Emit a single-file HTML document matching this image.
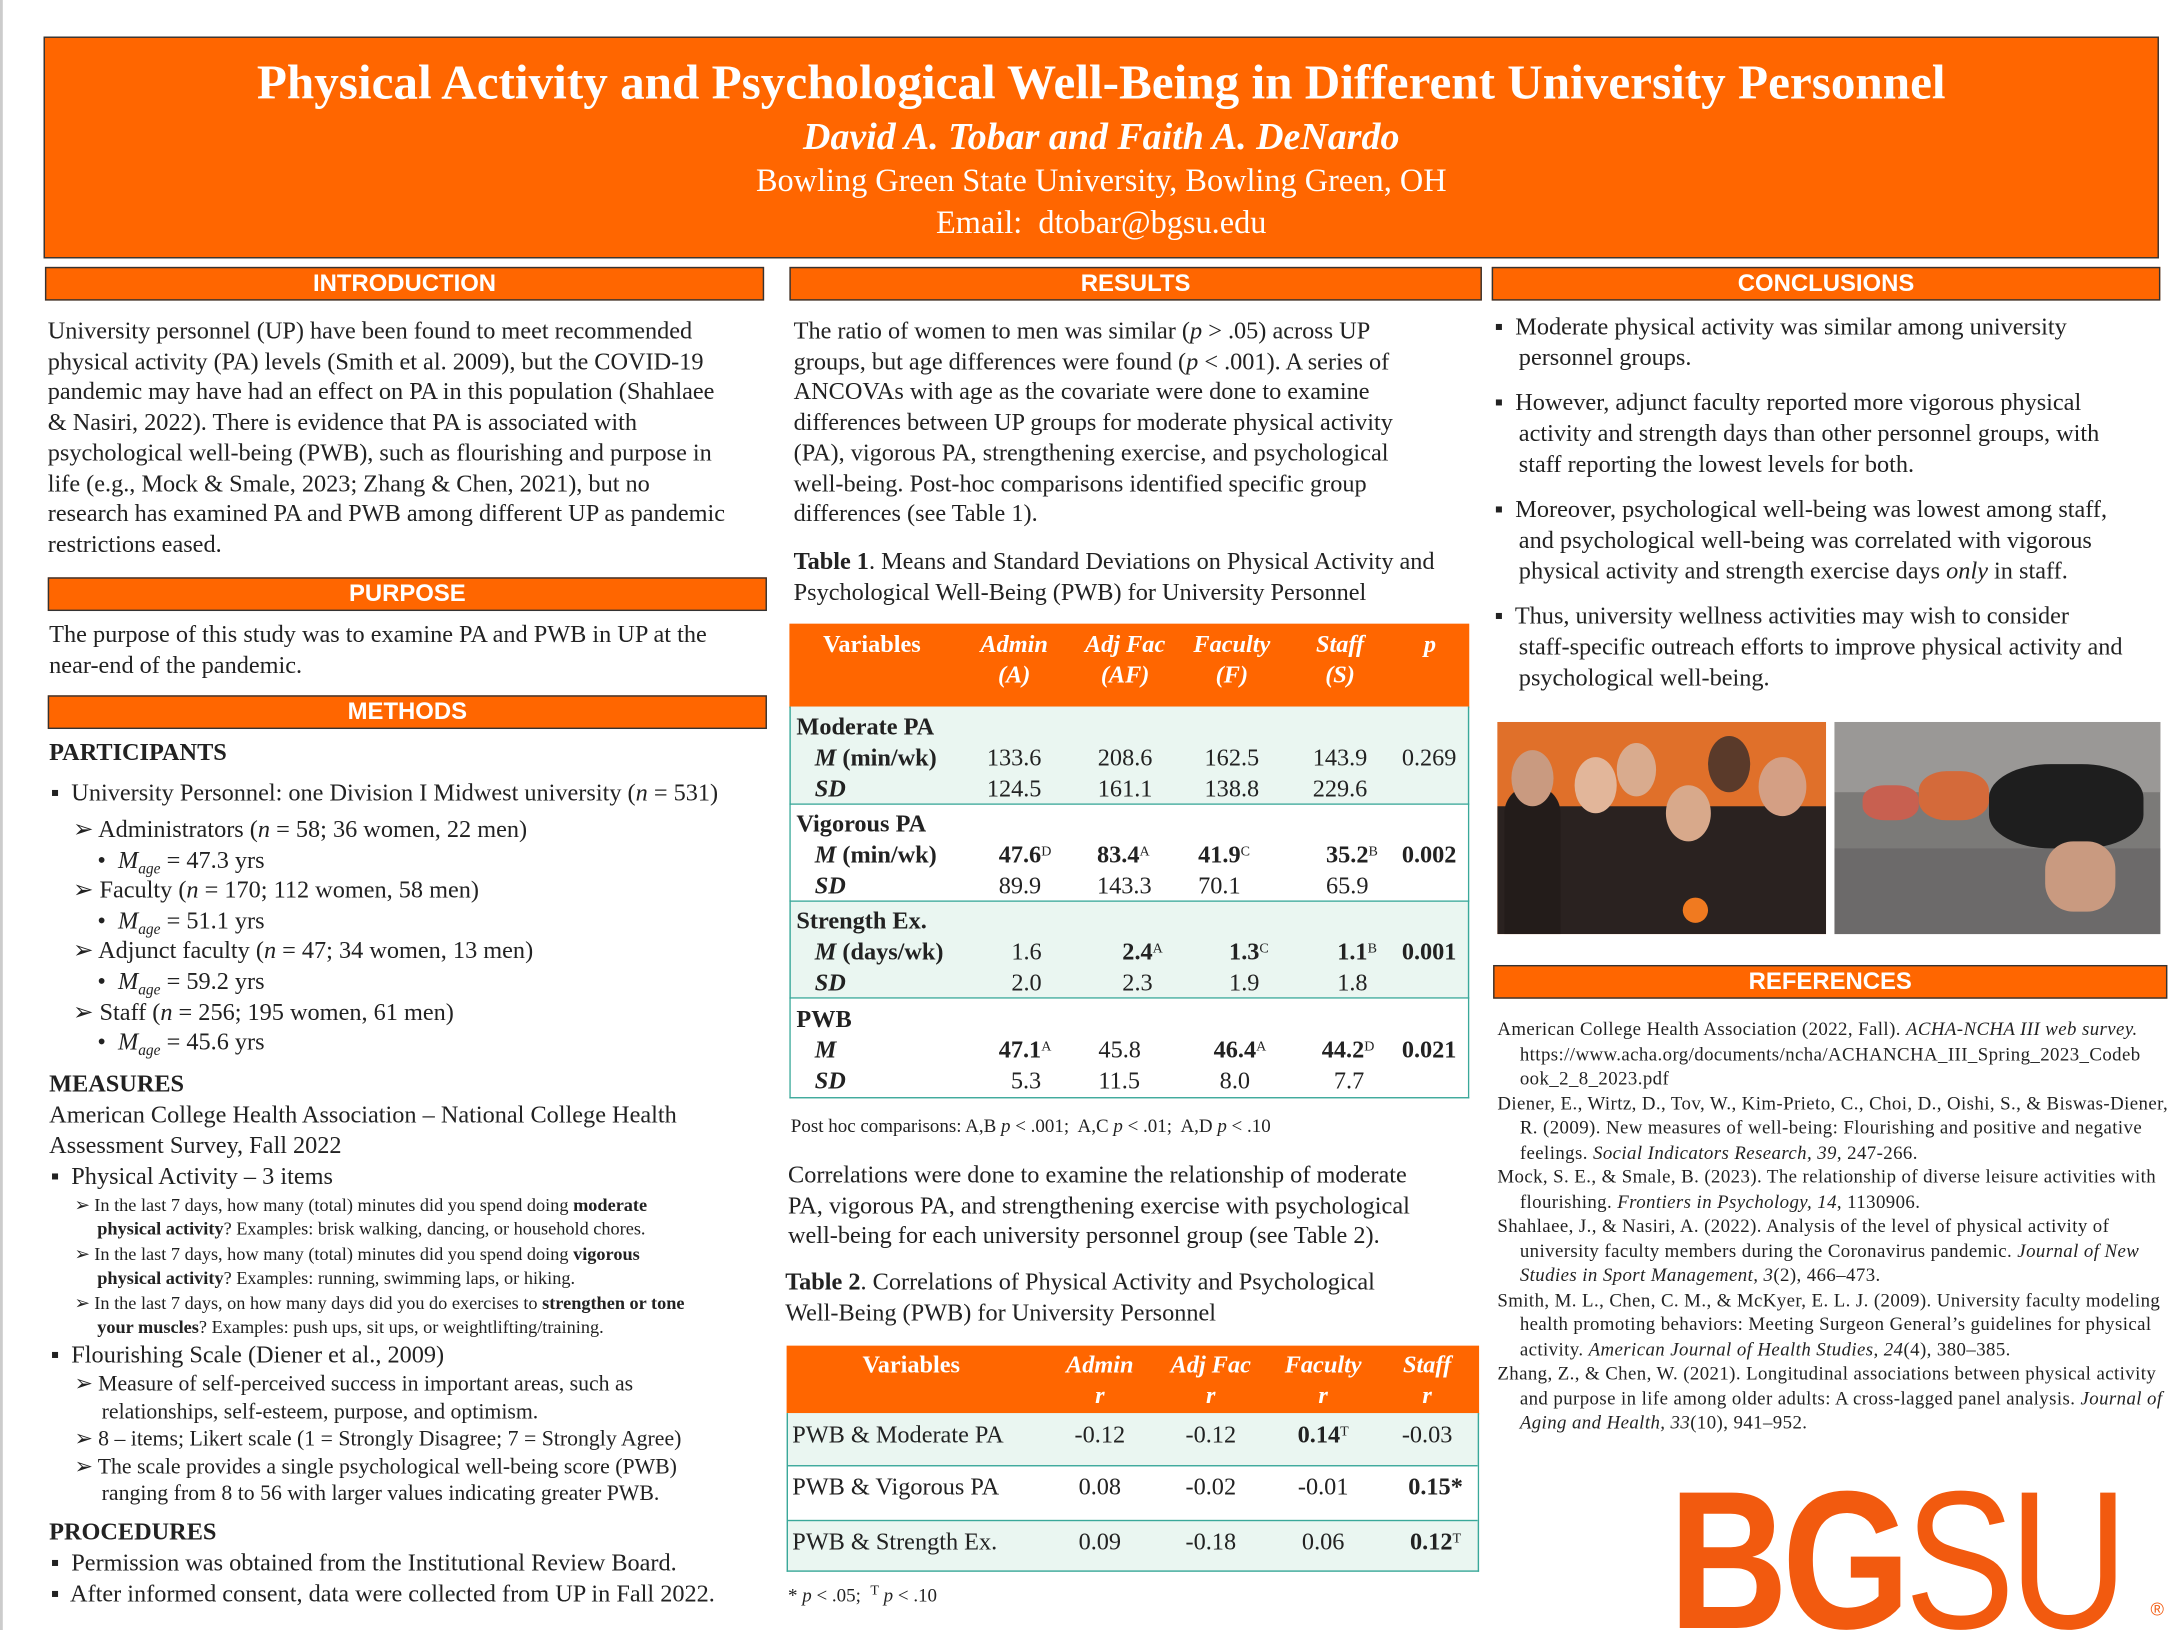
<!DOCTYPE html>
<html><head><meta charset="utf-8">
<style>
html,body{margin:0;padding:0;background:#fff;overflow:hidden;}
#wrap{width:2180px;height:1630px;position:relative;overflow:hidden;background:#fff;}
#p{position:absolute;left:0;top:0;width:1552px;height:1161px;transform:scale(1.40464);transform-origin:0 0;font-family:"Liberation Serif",serif;color:#222;}
.a{position:absolute;}
.hd{position:absolute;background:#FF6600;border:1px solid #333;color:#fff;font-family:"Liberation Sans",sans-serif;font-weight:bold;font-size:17px;text-align:center;line-height:22px;height:22px;}
.t{position:absolute;font-size:17.3px;line-height:21.7px;color:#222;}
.tb{position:absolute;font-size:17.3px;line-height:22px;}
.sm{font-size:13.5px;line-height:17.6px;}
sup{font-size:10px;vertical-align:5px;line-height:0}
sub{font-size:11px;line-height:0;vertical-align:-4px}
.c{position:absolute;text-align:center;}
.th{font-weight:bold;color:#fff}
</style></head><body><div id="wrap"><div id="p">

<div class="a" style="left:0;top:0;width:2px;height:1161px;background:#ccc"></div>
<div class="a" style="left:31px;top:26px;width:1504px;height:156px;background:#FF6600;border:1px solid #333"></div>
<div class="c" style="left:31px;top:38px;width:1506px;font-weight:bold;font-size:35px;color:#fff;line-height:42px">Physical Activity and Psychological Well-Being in Different University Personnel</div>
<div class="c" style="left:31px;top:80px;width:1506px;font-weight:bold;font-style:italic;font-size:27px;color:#fff;line-height:34px">David A. Tobar and Faith A. DeNardo</div>
<div class="c" style="left:31px;top:114px;width:1506px;font-size:23px;color:#fff;line-height:30px">Bowling Green State University, Bowling Green, OH</div>
<div class="c" style="left:31px;top:144px;width:1506px;font-size:23px;color:#fff;line-height:30px">Email:&nbsp; dtobar@bgsu.edu</div>

<div class="hd" style="left:32px;top:190px;width:510px">INTRODUCTION</div>
<div class="hd" style="left:562px;top:190px;width:491px">RESULTS</div>
<div class="hd" style="left:1062px;top:190px;width:474px">CONCLUSIONS</div>
<div class="hd" style="left:34px;top:411px;width:510px">PURPOSE</div>
<div class="hd" style="left:34px;top:495px;width:510px">METHODS</div>
<div class="hd" style="left:1063px;top:687px;width:478px">REFERENCES</div>

<div class="t" style="left:34px;top:225px;width:515px">University personnel (UP) have been found to meet recommended<br>physical activity (PA) levels (Smith et al. 2009), but the COVID-19<br>pandemic may have had an effect on PA in this population (Shahlaee<br>&amp; Nasiri, 2022). There is evidence that PA is associated with<br>psychological well-being (PWB), such as flourishing and purpose in<br>life (e.g., Mock &amp; Smale, 2023; Zhang &amp; Chen, 2021), but no<br>research has examined PA and PWB among different UP as pandemic<br>restrictions eased.</div>

<div class="t" style="left:35px;top:441px">The purpose of this study was to examine PA and PWB in UP at the<br>near-end of the pandemic.</div>

<div class="t" style="left:35px;top:525px;font-weight:bold">PARTICIPANTS</div>
<div class="t" style="left:36px;top:554px">▪&nbsp; University Personnel: one Division I Midwest university (<i>n</i> = 531)</div>
<div class="t" style="left:52px;top:580px;line-height:21.6px">➢ Administrators (<i>n</i> = 58; 36 women, 22 men)<br>&nbsp;&nbsp;&nbsp; • &nbsp;<i>M<sub>age</sub></i> = 47.3 yrs<br>➢ Faculty (<i>n</i> = 170; 112 women, 58 men)<br>&nbsp;&nbsp;&nbsp; • &nbsp;<i>M<sub>age</sub></i> = 51.1 yrs<br>➢ Adjunct faculty (<i>n</i> = 47; 34 women, 13 men)<br>&nbsp;&nbsp;&nbsp; • &nbsp;<i>M<sub>age</sub></i> = 59.2 yrs<br>➢ Staff (<i>n</i> = 256; 195 women, 61 men)<br>&nbsp;&nbsp;&nbsp; • &nbsp;<i>M<sub>age</sub></i> = 45.6 yrs</div>
<div class="t" style="left:35px;top:761px;font-weight:bold">MEASURES</div>
<div class="t" style="left:35px;top:783px">American College Health Association – National College Health<br>Assessment Survey, Fall 2022</div>
<div class="t" style="left:36px;top:827px">▪&nbsp; Physical Activity – 3 items</div>
<div class="a sm" style="left:53px;top:849px;width:495px;font-size:13px;line-height:17.4px">➢ In the last 7 days, how many (total) minutes did you spend doing <b>moderate</b><br>&nbsp;&nbsp;&nbsp;&nbsp;&nbsp;<b>physical activity</b>? Examples: brisk walking, dancing, or household chores.<br>➢ In the last 7 days, how many (total) minutes did you spend doing <b>vigorous</b><br>&nbsp;&nbsp;&nbsp;&nbsp;&nbsp;<b>physical activity</b>? Examples: running, swimming laps, or hiking.<br>➢ In the last 7 days, on how many days did you do exercises to <b>strengthen or tone</b><br>&nbsp;&nbsp;&nbsp;&nbsp;&nbsp;<b>your muscles</b>? Examples: push ups, sit ups, or weightlifting/training.</div>
<div class="t" style="left:36px;top:954px">▪&nbsp; Flourishing Scale (Diener et al., 2009)</div>
<div class="a" style="left:53px;top:976px;font-size:15.5px;line-height:19.5px">➢ Measure of self-perceived success in important areas, such as<br>&nbsp;&nbsp;&nbsp;&nbsp;&nbsp;relationships, self-esteem, purpose, and optimism.<br>➢ 8 – items; Likert scale (1 = Strongly Disagree; 7 = Strongly Agree)<br>➢ The scale provides a single psychological well-being score (PWB)<br>&nbsp;&nbsp;&nbsp;&nbsp;&nbsp;ranging from 8 to 56 with larger values indicating greater PWB.</div>
<div class="t" style="left:35px;top:1080px;font-weight:bold">PROCEDURES</div>
<div class="t" style="left:36px;top:1102px">▪&nbsp; Permission was obtained from the Institutional Review Board.<br>▪&nbsp; After informed consent, data were collected from UP in Fall 2022.</div>

<div class="t" style="left:565px;top:225px">The ratio of women to men was similar (<i>p</i> &gt; .05) across UP<br>groups, but age differences were found (<i>p</i> &lt; .001). A series of<br>ANCOVAs with age as the covariate were done to examine<br>differences between UP groups for moderate physical activity<br>(PA), vigorous PA, strengthening exercise, and psychological<br>well-being. Post-hoc comparisons identified specific group<br>differences (see Table 1).</div>
<div class="t" style="left:565px;top:389px"><b>Table 1</b>. Means and Standard Deviations on Physical Activity and<br>Psychological Well-Being (PWB) for University Personnel</div>

<div class="a" style="left:562px;top:444px;width:484px;height:59px;background:#FF6600;border-bottom:1px solid #8a8a50"></div>
<div class="a" style="left:562px;top:503px;width:482px;height:278px;background:#EAF6F1;border:1px solid #3aa89a;border-top:none"></div>
<div class="a" style="left:562px;top:572px;width:484px;height:1px;background:#3aa89a"></div>
<div class="a" style="left:562px;top:641px;width:484px;height:1px;background:#3aa89a"></div>
<div class="a" style="left:562px;top:710px;width:484px;height:1px;background:#3aa89a"></div>
<div class="a" style="left:563px;top:573px;width:482px;height:68px;background:#fff"></div>
<div class="a" style="left:563px;top:711px;width:482px;height:70px;background:#fff"></div>
<div class="tb th" style="left:586px;top:448px;width:90px">Variables</div>
<div class="c tb th" style="left:682px;top:448px;width:80px;font-style:italic">Admin<br>(A)</div>
<div class="c tb th" style="left:761px;top:448px;width:80px;font-style:italic">Adj Fac<br>(AF)</div>
<div class="c tb th" style="left:837px;top:448px;width:80px;font-style:italic">Faculty<br>(F)</div>
<div class="c tb th" style="left:914px;top:448px;width:80px;font-style:italic">Staff<br>(S)</div>
<div class="c tb th" style="left:998px;top:448px;width:40px;font-style:italic">p</div>

<div class="tb" style="left:567px;top:507px;font-weight:bold">Moderate PA</div>
<div class="tb" style="left:580px;top:529px;font-weight:bold"><i>M</i> (min/wk)</div>
<div class="tb" style="left:580px;top:551px;font-weight:bold;font-style:italic">SD</div>
<div class="c tb" style="left:692px;top:529px;width:60px">133.6<br>124.5</div>
<div class="c tb" style="left:771px;top:529px;width:60px">208.6<br>161.1</div>
<div class="c tb" style="left:847px;top:529px;width:60px">162.5<br>138.8</div>
<div class="c tb" style="left:924px;top:529px;width:60px">143.9<br>229.6</div>
<div class="tb" style="left:998px;top:529px">0.269</div>

<div class="tb" style="left:567px;top:576px;font-weight:bold">Vigorous PA</div>
<div class="tb" style="left:580px;top:598px;font-weight:bold"><i>M</i> (min/wk)</div>
<div class="tb" style="left:580px;top:620px;font-weight:bold;font-style:italic">SD</div>
<div class="tb" style="left:711px;top:598px"><b>47.6</b><sup>D</sup><br>89.9</div>
<div class="tb" style="left:781px;top:598px"><b>83.4</b><sup>A</sup><br>143.3</div>
<div class="tb" style="left:853px;top:598px"><b>41.9</b><sup>C</sup><br>70.1</div>
<div class="tb" style="left:944px;top:598px"><b>35.2</b><sup>B</sup><br>65.9</div>
<div class="tb" style="left:998px;top:598px;font-weight:bold">0.002</div>

<div class="tb" style="left:567px;top:645px;font-weight:bold">Strength Ex.</div>
<div class="tb" style="left:580px;top:667px;font-weight:bold"><i>M</i> (days/wk)</div>
<div class="tb" style="left:580px;top:689px;font-weight:bold;font-style:italic">SD</div>
<div class="tb" style="left:720px;top:667px">1.6<br>2.0</div>
<div class="tb" style="left:799px;top:667px"><b>2.4</b><sup>A</sup><br>2.3</div>
<div class="tb" style="left:875px;top:667px"><b>1.3</b><sup>C</sup><br>1.9</div>
<div class="tb" style="left:952px;top:667px"><b>1.1</b><sup>B</sup><br>1.8</div>
<div class="tb" style="left:998px;top:667px;font-weight:bold">0.001</div>

<div class="tb" style="left:567px;top:715px;font-weight:bold">PWB</div>
<div class="tb" style="left:580px;top:737px;font-weight:bold;font-style:italic">M</div>
<div class="tb" style="left:580px;top:759px;font-weight:bold;font-style:italic">SD</div>
<div class="tb" style="left:711px;top:737px"><b>47.1</b><sup>A</sup><br>&nbsp;&nbsp;5.3</div>
<div class="tb" style="left:782px;top:737px">45.8<br>11.5</div>
<div class="tb" style="left:864px;top:737px"><b>46.4</b><sup>A</sup><br>&nbsp;8.0</div>
<div class="tb" style="left:941px;top:737px"><b>44.2</b><sup>D</sup><br>&nbsp;&nbsp;7.7</div>
<div class="tb" style="left:998px;top:737px;font-weight:bold">0.021</div>

<div class="a" style="left:563px;top:794px;font-size:13.5px">Post hoc comparisons: A,B <i>p</i> &lt; .001;&nbsp; A,C <i>p</i> &lt; .01;&nbsp; A,D <i>p</i> &lt; .10</div>

<div class="t" style="left:561px;top:826px">Correlations were done to examine the relationship of moderate<br>PA, vigorous PA, and strengthening exercise with psychological<br>well-being for each university personnel group (see Table 2).</div>
<div class="t" style="left:559px;top:902px"><b>Table 2</b>. Correlations of Physical Activity and Psychological<br>Well-Being (PWB) for University Personnel</div>

<div class="a" style="left:560px;top:958px;width:493px;height:48px;background:#FF6600;border-bottom:1px solid #8a8a50"></div>
<div class="a" style="left:560px;top:1006px;width:491px;height:112px;background:#EAF6F1;border:1px solid #3aa89a;border-top:none"></div>
<div class="a" style="left:561px;top:1043px;width:491px;height:38px;background:#fff;border-top:1px solid #3aa89a;border-bottom:1px solid #3aa89a"></div>
<div class="tb th" style="left:614px;top:961px">Variables</div>
<div class="c tb th" style="left:753px;top:961px;width:60px;font-style:italic">Admin<br>r</div>
<div class="c tb th" style="left:827px;top:961px;width:70px;font-style:italic">Adj Fac<br>r</div>
<div class="c tb th" style="left:907px;top:961px;width:70px;font-style:italic">Faculty<br>r</div>
<div class="c tb th" style="left:986px;top:961px;width:60px;font-style:italic">Staff<br>r</div>
<div class="tb" style="left:564px;top:1011px">PWB &amp; Moderate PA</div>
<div class="tb" style="left:564px;top:1048px">PWB &amp; Vigorous PA</div>
<div class="tb" style="left:564px;top:1087px">PWB &amp; Strength Ex.</div>
<div class="c tb" style="left:753px;top:1011px;width:60px">-0.12</div>
<div class="c tb" style="left:832px;top:1011px;width:60px">-0.12</div>
<div class="c tb" style="left:912px;top:1011px;width:60px"><b>0.14</b><sup>T</sup></div>
<div class="c tb" style="left:986px;top:1011px;width:60px">-0.03</div>
<div class="c tb" style="left:753px;top:1048px;width:60px">0.08</div>
<div class="c tb" style="left:832px;top:1048px;width:60px">-0.02</div>
<div class="c tb" style="left:912px;top:1048px;width:60px">-0.01</div>
<div class="c tb" style="left:992px;top:1048px;width:60px;font-weight:bold">0.15*</div>
<div class="c tb" style="left:753px;top:1087px;width:60px">0.09</div>
<div class="c tb" style="left:832px;top:1087px;width:60px">-0.18</div>
<div class="c tb" style="left:912px;top:1087px;width:60px">0.06</div>
<div class="c tb" style="left:992px;top:1087px;width:60px"><b>0.12</b><sup>T</sup></div>
<div class="a" style="left:561px;top:1128px;font-size:13.5px">* <i>p</i> &lt; .05;&nbsp; <sup>T</sup> <i>p</i> &lt; .10</div>

<div class="t" style="left:1064px;top:222px;line-height:21.9px">▪&nbsp; Moderate physical activity was similar among university<br>&nbsp;&nbsp;&nbsp;&nbsp;personnel groups.</div>
<div class="t" style="left:1064px;top:276px;line-height:21.9px">▪&nbsp; However, adjunct faculty reported more vigorous physical<br>&nbsp;&nbsp;&nbsp;&nbsp;activity and strength days than other personnel groups, with<br>&nbsp;&nbsp;&nbsp;&nbsp;staff reporting the lowest levels for both.</div>
<div class="t" style="left:1064px;top:352px;line-height:21.9px">▪&nbsp; Moreover, psychological well-being was lowest among staff,<br>&nbsp;&nbsp;&nbsp;&nbsp;and psychological well-being was correlated with vigorous<br>&nbsp;&nbsp;&nbsp;&nbsp;physical activity and strength exercise days <i>only</i> in staff.</div>
<div class="t" style="left:1064px;top:428px;line-height:21.9px">▪&nbsp; Thus, university wellness activities may wish to consider<br>&nbsp;&nbsp;&nbsp;&nbsp;staff-specific outreach efforts to improve physical activity and<br>&nbsp;&nbsp;&nbsp;&nbsp;psychological well-being.</div>

<div class="a" style="left:1066px;top:514px;width:234px;height:151px;background:#e0702a;overflow:hidden">
 <div class="a" style="left:0;top:60px;width:234px;height:91px;background:#2a2220"></div>
 <div class="a" style="left:5px;top:45px;width:40px;height:106px;border-radius:20px 20px 0 0;background:#231c1a"></div>
 <div class="a" style="left:10px;top:20px;width:30px;height:40px;border-radius:50%;background:#c99a80"></div>
 <div class="a" style="left:55px;top:25px;width:30px;height:40px;border-radius:50%;background:#e2b69a"></div>
 <div class="a" style="left:85px;top:15px;width:28px;height:38px;border-radius:50%;background:#d9ab8e"></div>
 <div class="a" style="left:120px;top:45px;width:32px;height:40px;border-radius:50%;background:#d8a98b"></div>
 <div class="a" style="left:150px;top:10px;width:30px;height:40px;border-radius:50%;background:#5a3a2a"></div>
 <div class="a" style="left:186px;top:25px;width:34px;height:42px;border-radius:50%;background:#d49f84"></div>
 <div class="a" style="left:132px;top:125px;width:18px;height:18px;border-radius:50%;background:#f07a20"></div>
</div>
<div class="a" style="left:1306px;top:514px;width:232px;height:151px;background:#7b7a78;overflow:hidden">
 <div class="a" style="left:0;top:0;width:232px;height:50px;background:#9a9896"></div>
 <div class="a" style="left:0;top:90px;width:232px;height:61px;background:#6c6a6a"></div>
 <div class="a" style="left:110px;top:30px;width:110px;height:60px;border-radius:40%;background:#1e1e1e"></div>
 <div class="a" style="left:60px;top:35px;width:50px;height:35px;border-radius:40%;background:#d46a3a"></div>
 <div class="a" style="left:20px;top:45px;width:40px;height:25px;border-radius:40%;background:#c86050"></div>
 <div class="a" style="left:150px;top:85px;width:50px;height:50px;border-radius:40%;background:#c99a80"></div>
</div>

<div class="a sm" style="left:1066px;top:724px;width:478px;color:#222;font-size:13.4px;line-height:17.5px;letter-spacing:0.3px">
<div style="padding-left:16px;text-indent:-16px">American College Health Association (2022, Fall). <i>ACHA-NCHA III web survey.</i> https://www.acha.org/documents/ncha/ACHANCHA_III_Spring_2023_Codeb ook_2_8_2023.pdf</div>
<div style="padding-left:16px;text-indent:-16px">Diener, E., Wirtz, D., Tov, W., Kim-Prieto, C., Choi, D., Oishi, S., &amp; Biswas-Diener, R. (2009). New measures of well-being: Flourishing and positive and negative feelings. <i>Social Indicators Research, 39</i>, 247-266.</div>
<div style="padding-left:16px;text-indent:-16px">Mock, S. E., &amp; Smale, B. (2023). The relationship of diverse leisure activities with flourishing. <i>Frontiers in Psychology, 14</i>, 1130906.</div>
<div style="padding-left:16px;text-indent:-16px">Shahlaee, J., &amp; Nasiri, A. (2022). Analysis of the level of physical activity of university faculty members during the Coronavirus pandemic. <i>Journal of New Studies in Sport Management, 3</i>(2), 466–473.</div>
<div style="padding-left:16px;text-indent:-16px">Smith, M. L., Chen, C. M., &amp; McKyer, E. L. J. (2009). University faculty modeling health promoting behaviors: Meeting Surgeon General’s guidelines for physical activity. <i>American Journal of Health Studies, 24</i>(4), 380–385.</div>
<div style="padding-left:16px;text-indent:-16px">Zhang, Z., &amp; Chen, W. (2021). Longitudinal associations between physical activity and purpose in life among older adults: A cross-lagged panel analysis. <i>Journal of Aging and Health, 33</i>(10), 941–952.</div>
</div>

<div class="a" style="left:1188px;top:1036px;font-family:'Liberation Sans',sans-serif;font-size:140px;line-height:150px;color:#F25A0F;letter-spacing:-5px;white-space:nowrap;transform:scaleX(0.84);transform-origin:0 0"><b>BG</b><span style="font-weight:normal">SU</span></div>
<div class="a" style="left:1531px;top:1138px;font-family:'Liberation Sans',sans-serif;font-size:13px;color:#F25A0F">®</div>

</div></div></body></html>
